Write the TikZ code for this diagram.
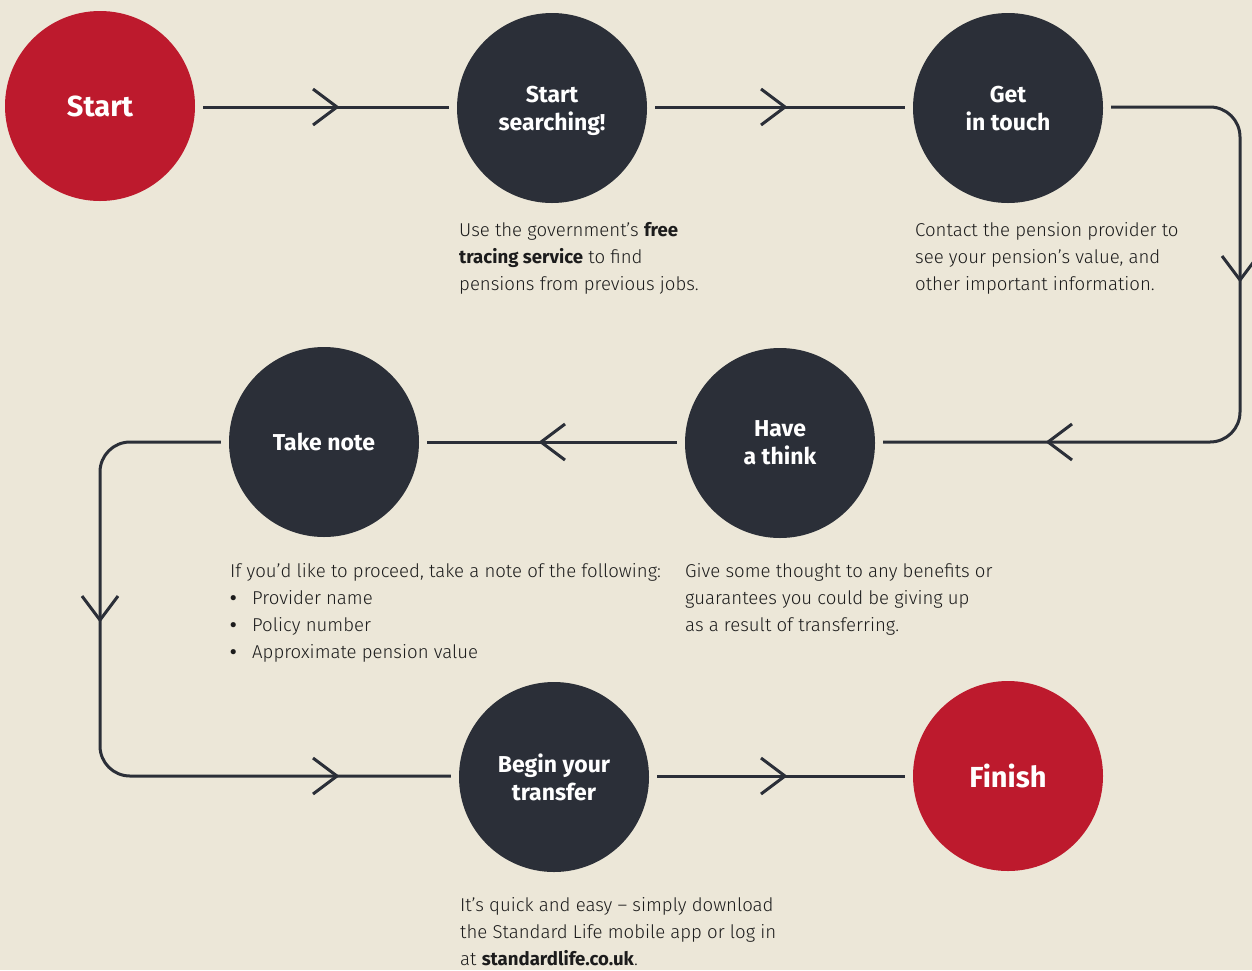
\documentclass[tikz,border=0pt]{standalone}
\usepackage{fontspec}
\setmainfont{Fira Sans Light}[BoldFont={Fira Sans Bold}]
\newfontfamily\titlefont{Fira Sans}
\definecolor{bg}{HTML}{ECE7D8}
\definecolor{cred}{HTML}{BD1A2D}
\definecolor{cdark}{HTML}{2B2F38}
\definecolor{ctext}{HTML}{1C1C1C}
\newcommand\bul{\makebox[22pt][l]{\hspace{0pt}\textbf{\textbullet}}}
\tikzset{
  circ/.style={circle, minimum size=190pt, inner sep=0pt, text=white, align=center, text depth=0pt},
  redc/.style={circ, fill=cred, font=\titlefont\bfseries\fontsize{29}{34}\selectfont},
  darkc/.style={circ, fill=cdark, font=\titlefont\bfseries\fontsize{23}{28}\selectfont},
  conn/.style={draw=cdark, line width=3pt},
  chev/.pic={\draw[conn] (-24,-18) -- (0,0) -- (-24,18);},
  body/.style={anchor=base west, inner sep=0pt, text=ctext, font=\fontsize{18.6}{27}\selectfont}
}
\begin{document}
\begin{tikzpicture}[x=1pt,y=-1pt]
\useasboundingbox[fill=bg] (0,0) rectangle (1252,970);
% circles
\node[redc]  (start)  at (100,106) {Start};
\node[darkc] (search) at (552,108) {Start\\searching!};
\node[darkc] (touch)  at (1008,108) {Get\\in touch};
\node[darkc] (think)  at (780,443) {Have\\a think};
\node[darkc] (note)   at (324,442) {Take note};
\node[darkc] (begin)  at (554,777) {Begin your\\transfer};
\node[redc]  (finish) at (1008,776) {Finish};
% loop corners
\coordinate (rt) at (1240,107);
\coordinate (rb) at (1240,442);
\coordinate (lt) at (100,442);
\coordinate (lb) at (100,776);
% connectors
\draw[conn] ([xshift=8pt]start.east |- rt) -- ([xshift=-8pt]search.west |- rt);
\draw[conn] ([xshift=8pt]search.east |- rt) -- ([xshift=-8pt]touch.west |- rt);
\draw[conn, rounded corners=30pt] ([xshift=8pt]touch.east |- rt) -- (rt) -- (rb) -- ([xshift=8pt]think.east |- rb);
\draw[conn] ([xshift=-8pt]think.west |- lt) -- ([xshift=8pt]note.east |- lt);
\draw[conn, rounded corners=30pt] ([xshift=-8pt]note.west |- lt) -- (lt) -- (lb) -- ([xshift=-8pt]begin.west |- lb);
\draw[conn] ([xshift=8pt]begin.east |- lb) -- ([xshift=-8pt]finish.west |- lb);
% chevrons
\pic at (337,107) {chev};
\pic at (785,107) {chev};
\pic[rotate=-90] at (1240,280) {chev};
\pic[rotate=180] at (1048,442) {chev};
\pic[rotate=180] at (541,442) {chev};
\pic[rotate=-90] at (100,620) {chev};
\pic at (337,776) {chev};
\pic at (785,776) {chev};
% texts
\node[body] (t1) at (459,236) {\parbox[t]{320pt}{\raggedright Use the government’s \textbf{free}\\\textbf{tracing service} to find\\pensions from previous jobs.}};
\node[body] (t2) at (915,236) {\parbox[t]{320pt}{\raggedright Contact the pension provider to\\see your pension’s value, and\\other important information.}};
\node[body] (t3) at (230,577) {\parbox[t]{520pt}{\raggedright If you’d like to proceed, take a note of the following:\\\bul Provider name\\\bul Policy number\\\bul Approximate pension value}};
\node[body] (t4) at (685,577) {\parbox[t]{360pt}{\raggedright Give some thought to any benefits or\\guarantees you could be giving up\\as a result of transferring.}};
\node[body] (t5) at (460,911) {\parbox[t]{360pt}{\raggedright It’s quick and easy – simply download\\the Standard Life mobile app or log in\\at \textbf{standardlife.co.uk}.}};
\end{tikzpicture}
\end{document}
